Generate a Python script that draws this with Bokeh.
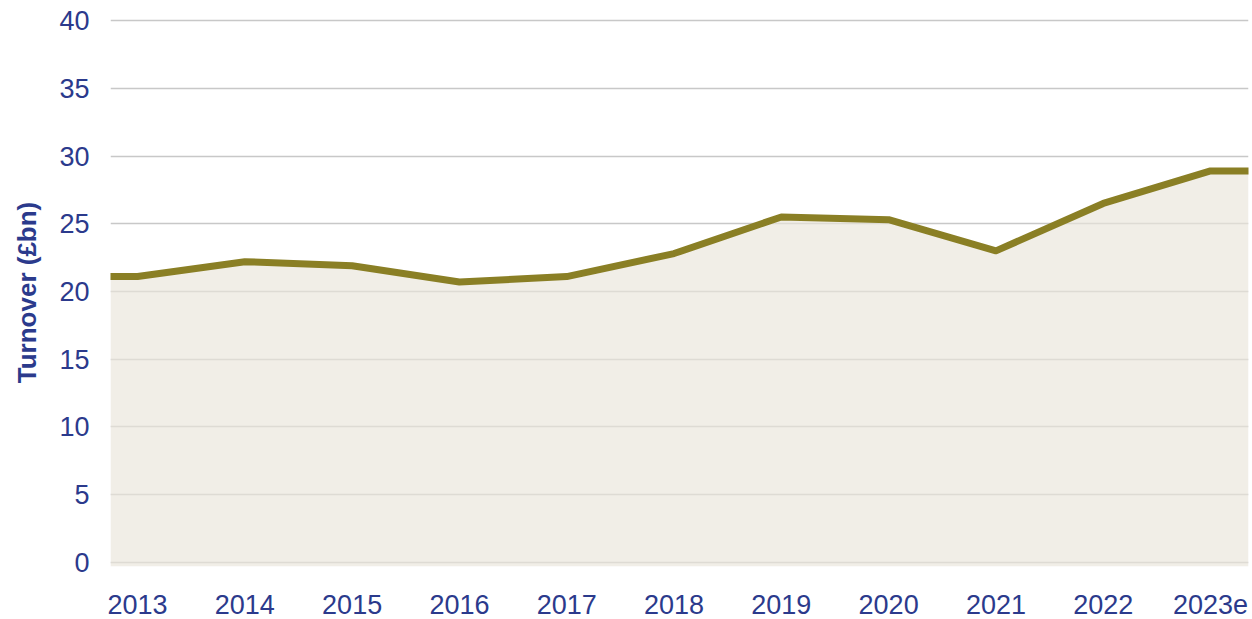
from bokeh.plotting import figure
from bokeh.models import Range1d, FixedTicker
from bokeh.embed import file_html
from bokeh.resources import INLINE

years = ["2013", "2014", "2015", "2016", "2017", "2018", "2019", "2020", "2021", "2022", "2023e"]
turnover = [21.1, 22.2, 21.9, 20.7, 21.1, 22.8, 25.5, 25.3, 23.0, 26.5, 28.9]
y_ticks = [0, 5, 10, 15, 20, 25, 30, 35, 40]

NAVY = "#2b3a8c"
LINE = "#8a7f25"
FILL = "#eae5da"
FONT = "Liberation Sans"

x_start, x_end = -0.252, 10.354
p = figure(width=1252, height=619, output_backend="svg", toolbar_location=None,
           x_range=Range1d(x_start, x_end), y_range=Range1d(-0.3, 40.15),
           min_border_left=110, min_border_right=4, min_border_top=18, min_border_bottom=53)
p.outline_line_color = None
p.background_fill_color = "white"

idx = list(range(len(years)))
# extend area/line to the frame edges, holding the end values
xs = [x_start] + idx + [x_end]
ys = [turnover[0]] + turnover + [turnover[-1]]

p.varea(x=xs, y1=[-0.3] * len(xs), y2=ys, fill_color=FILL, fill_alpha=0.65)
p.line(x=xs, y=ys, line_color=LINE, line_width=7, line_join="round", line_cap="round")

p.xgrid.visible = False
p.ygrid.ticker = FixedTicker(ticks=y_ticks)
p.ygrid.grid_line_color = "#c8c8c8"
p.ygrid.grid_line_width = 1.5

p.yaxis.ticker = FixedTicker(ticks=y_ticks)
p.yaxis.axis_line_color = None
p.yaxis.major_tick_line_color = None
p.yaxis.minor_tick_line_color = None
p.yaxis.major_tick_out = 0
p.yaxis.major_tick_in = 0
p.yaxis.major_label_standoff = 21
p.yaxis.major_label_text_font = FONT
p.yaxis.major_label_text_font_size = "27px"
p.yaxis.major_label_text_color = NAVY
p.yaxis.axis_label = "Turnover (£bn)"
p.yaxis.axis_label_text_font = FONT
p.yaxis.axis_label_text_font_size = "26px"
p.yaxis.axis_label_text_font_style = "bold"
p.yaxis.axis_label_text_color = NAVY
p.yaxis.axis_label_standoff = 14

p.xaxis.ticker = FixedTicker(ticks=idx)
p.xaxis.major_label_overrides = {i: y for i, y in zip(idx, years)}
p.xaxis.axis_line_color = None
p.xaxis.major_tick_line_color = None
p.xaxis.minor_tick_line_color = None
p.xaxis.major_tick_out = 0
p.xaxis.major_tick_in = 0
p.xaxis.major_label_standoff = 28
p.xaxis.major_label_text_font = FONT
p.xaxis.major_label_text_font_size = "27px"
p.xaxis.major_label_text_color = NAVY

open("out.html", "w").write(file_html(p, INLINE))
